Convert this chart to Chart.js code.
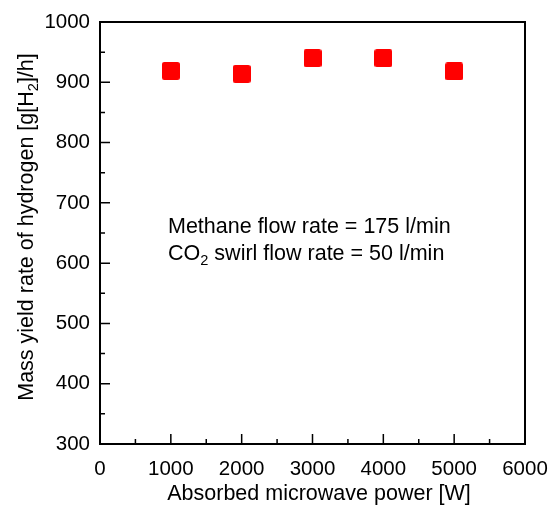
<!DOCTYPE html>
<html>
<head>
<meta charset="utf-8">
<script src="https://cdn.jsdelivr.net/npm/chart.js@4.4.1/dist/chart.umd.min.js"></script>
<style>
  html, body { margin: 0; padding: 0; background: #fff; }
  #wrap { width: 552px; height: 508px; }
</style>
</head>
<body>
<div id="wrap"><canvas id="yieldChart" width="552" height="508"></canvas></div>
<script>
// absorbed microwave power [W] and mass yield of hydrogen [g/h]
const powerW = [1000, 2000, 3000, 4000, 5000];
const yieldH2 = [919, 914, 940, 940, 918];
const xTickLabels = ['0', '1000', '2000', '3000', '4000', '5000', '6000'];
const yTickLabels = ['300', '400', '500', '600', '700', '800', '900', '1000'];

const FONT = '"Liberation Sans", Arial, sans-serif';
const TEXT_SIZE = 21.5;

// small red square with slightly rounded corners
function squareMarker(size) {
    const c = document.createElement('canvas');
    c.width = size; c.height = size;
    const g = c.getContext('2d');
    g.fillStyle = '#ff0000';
    g.beginPath();
    g.roundRect(0, 0, size, size, 2.5);
    g.fill();
    return c;
}

// draws text runs where some pieces are subscripts
function drawRuns(ctx, runs, x, y, size, align) {
    const sub = size * 0.68;
    let total = 0;
    runs.forEach(r => {
        ctx.font = (r.sub ? sub : size) + 'px ' + FONT;
        total += ctx.measureText(r.t).width;
    });
    let cx = align === 'center' ? x - total / 2 : x;
    ctx.textBaseline = 'alphabetic';
    ctx.textAlign = 'left';
    runs.forEach(r => {
        ctx.font = (r.sub ? sub : size) + 'px ' + FONT;
        ctx.fillText(r.t, cx, r.sub ? y + size * 0.25 : y);
        cx += ctx.measureText(r.t).width;
    });
}

const framePlugin = {
    id: 'frame',
    afterDraw(chart) {
        const ctx = chart.ctx;
        const a = chart.chartArea;
        const xs = chart.scales.x, ys = chart.scales.y;
        ctx.save();
        ctx.strokeStyle = '#000';

        // inward tick marks, long on labelled values
        ctx.lineWidth = 1.5;
        ctx.beginPath();
        xs.ticks.forEach(t => {
            const px = xs.getPixelForValue(t.value);
            const len = t.value % 1000 === 0 ? 10 : 5;
            ctx.moveTo(px, a.bottom);
            ctx.lineTo(px, a.bottom - len);
        });
        ys.ticks.forEach(t => {
            const py = ys.getPixelForValue(t.value);
            const len = t.value % 100 === 0 ? 10 : 5;
            ctx.moveTo(a.left, py);
            ctx.lineTo(a.left + len, py);
        });
        ctx.stroke();

        // box around the plot
        ctx.lineWidth = 2;
        ctx.strokeRect(a.left, a.top, a.right - a.left, a.bottom - a.top);

        ctx.fillStyle = '#000';
        // x axis title
        drawRuns(ctx, [{ t: 'Absorbed microwave power [W]' }], 319, 500, TEXT_SIZE, 'center');

        // y axis title
        ctx.save();
        ctx.translate(33, 227);
        ctx.rotate(-Math.PI / 2);
        drawRuns(ctx, [
            { t: 'Mass yield rate of hydrogen [g[H' },
            { t: '2', sub: true },
            { t: ']/h]' }
        ], 0, 0, TEXT_SIZE, 'center');
        ctx.restore();

        // operating conditions
        drawRuns(ctx, [{ t: 'Methane flow rate = 175 l/min' }], 168, 233, TEXT_SIZE, 'left');
        drawRuns(ctx, [
            { t: 'CO' }, { t: '2', sub: true }, { t: ' swirl flow rate = 50 l/min' }
        ], 168, 260, TEXT_SIZE, 'left');
        ctx.restore();
    }
};

new Chart(document.getElementById('yieldChart').getContext('2d'), {
    type: 'scatter',
    data: {
        datasets: [{
            label: 'Mass yield',
            data: powerW.map((p, i) => ({ x: p, y: yieldH2[i] })),
            pointStyle: squareMarker(18),
            pointRadius: 9,
            pointHoverRadius: 9
        }]
    },
    options: {
        responsive: false,
        animation: false,
        events: [],
        layout: { padding: { top: 22, right: 27, left: 0, bottom: 0 } },
        plugins: { legend: { display: false }, tooltip: { enabled: false } },
        scales: {
            x: {
                type: 'linear',
                min: 0, max: 6000,
                afterFit: s => { s.height = 64; s.paddingLeft = 0; s.paddingRight = 0; },
                border: { display: false },
                grid: { display: false, drawTicks: false },
                ticks: {
                    stepSize: 500,
                    autoSkip: false,
                    maxRotation: 0,
                    padding: 13,
                    color: '#000',
                    font: { family: FONT, size: 20.5 },
                    callback: v => v % 1000 === 0 ? xTickLabels[v / 1000] : ''
                }
            },
            y: {
                type: 'linear',
                min: 300, max: 1000,
                afterFit: s => { s.width = 100; s.paddingTop = 0; s.paddingBottom = 0; },
                border: { display: false },
                grid: { display: false, drawTicks: false },
                ticks: {
                    stepSize: 50,
                    autoSkip: false,
                    padding: 10,
                    color: '#000',
                    font: { family: FONT, size: 20.5 },
                    callback: v => v % 100 === 0 ? yTickLabels[(v - 300) / 100] : ''
                }
            }
        }
    },
    plugins: [framePlugin]
});
</script>
</body>
</html>
